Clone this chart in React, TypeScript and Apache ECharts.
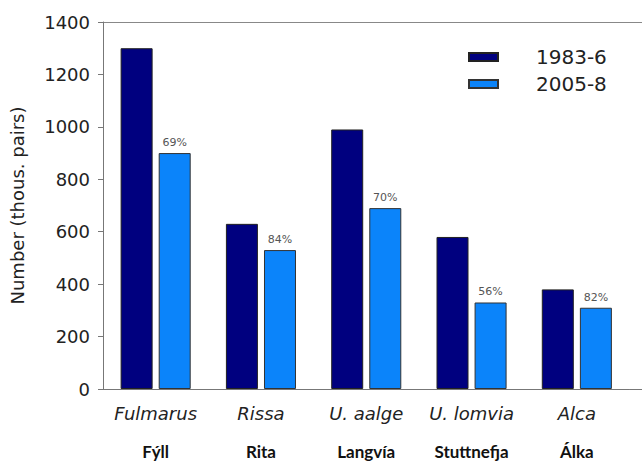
import React, { useEffect, useRef } from "react";
import * as echarts from "echarts";

const speciesLatin = ["Fulmarus", "Rissa", "U. aalge", "U. lomvia", "Alca"];
const speciesIcelandic = ["Fýll", "Rita", "Langvía", "Stuttnefja", "Álka"];
const period1Name = "1983-6";
const period2Name = "2005-8";
const period1Values = [1300, 630, 990, 580, 380];
const period2Values = [900, 530, 690, 330, 310];
const percentLabels = ["69%", "84%", "70%", "56%", "82%"];
const yTicks = { min: 0, max: 1400, interval: 200 };

export default function App() {
  const ref = useRef<HTMLDivElement>(null);
  useEffect(() => {
    if (!ref.current) return;
    const chart = echarts.init(ref.current, null, { renderer: "svg" });
    const gridLeft = 102;
    const gridTop = 22;
    const gridBottom = 75;
    const gridRight = 12.5;
    const W = 642;
    const H = 464;
    chart.setOption({
      animation: false,
      backgroundColor: "#ffffff",
      grid: { left: gridLeft, top: gridTop, bottom: gridBottom, right: gridRight, containLabel: false },
      legend: {
        orient: "vertical",
        left: 463,
        top: 42,
        itemWidth: 29,
        itemHeight: 8,
        itemGap: 7,
        icon: "rect",
        textStyle: {
          fontFamily: "DejaVu Sans",
          fontSize: 20,
          color: "#222",
          lineHeight: 20,
          padding: [0, 0, 0, 33],
        },
        data: [period1Name, period2Name],
      },
      xAxis: {
        type: "category",
        data: speciesLatin,
        axisLine: { lineStyle: { color: "#777", width: 1 } },
        axisTick: { alignWithLabel: true, length: 5, lineStyle: { color: "#777" } },
        axisLabel: {
          margin: 12,
          interval: 0,
          formatter: (v: string, i: number) => `{a|${v}}\n{b|${speciesIcelandic[i]}}`,
          rich: {
            a: { fontFamily: "DejaVu Sans", fontStyle: "italic", fontSize: 18, color: "#222", lineHeight: 24 },
            b: { fontFamily: "Lato", fontWeight: "bold", fontSize: 17, color: "#111", lineHeight: 52 },
          },
        },
      },
      yAxis: {
        type: "value",
        min: yTicks.min,
        max: yTicks.max,
        interval: yTicks.interval,
        name: "Number (thous. pairs)",
        nameLocation: "middle",
        nameGap: 77,
        nameTextStyle: { fontFamily: "DejaVu Sans", fontSize: 18, color: "#222" },
        axisLine: { show: true, lineStyle: { color: "#777", width: 1 } },
        axisTick: { show: true, length: 5, lineStyle: { color: "#777" } },
        splitLine: { show: false },
        axisLabel: {
          margin: 13,
          fontFamily: "DejaVu Sans",
          fontSize: 18,
          color: "#222",
          formatter: (v: number) => String(v),
        },
      },
      series: [
        {
          name: period1Name,
          type: "bar",
          data: period1Values,
          barWidth: 32,
          barGap: "19%",
          itemStyle: { color: "#00007F", borderColor: "#222", borderWidth: 1 },
        },
        {
          name: period2Name,
          type: "bar",
          data: period2Values,
          barWidth: 32,
          barGap: "19%",
          itemStyle: { color: "#0B84FA", borderColor: "#333", borderWidth: 1 },
          label: {
            show: true,
            position: "top",
            distance: 5,
            fontFamily: "DejaVu Sans",
            fontSize: 11,
            color: "#555",
            formatter: (p: any) => percentLabels[p.dataIndex],
          },
        },
      ],
      graphic: [
        {
          type: "line",
          shape: { x1: gridLeft, y1: gridTop + 0.5, x2: W, y2: gridTop + 0.5 },
          style: { stroke: "#888", lineWidth: 1 },
        },
        {
          type: "line",
          shape: { x1: W - gridRight, y1: H - gridBottom + 0.5, x2: W, y2: H - gridBottom + 0.5 },
          style: { stroke: "#777", lineWidth: 1 },
        },
      ],
    });
    return () => chart.dispose();
  }, []);
  return <div ref={ref} style={{ position: "fixed", left: 0, top: 0, width: 642, height: 464 }} />;
}
